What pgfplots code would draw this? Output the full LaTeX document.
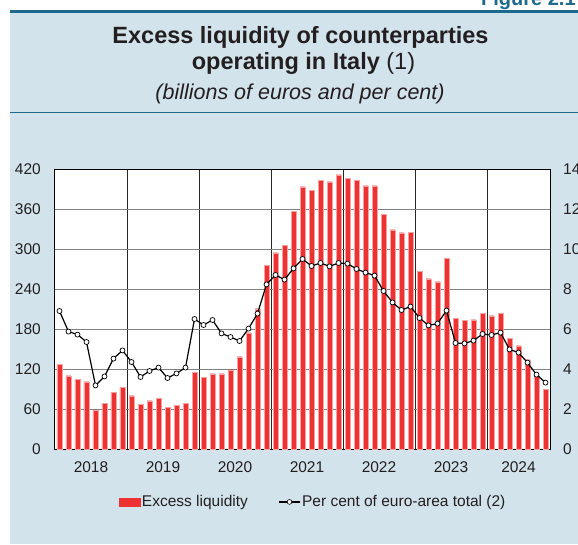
\documentclass[border=0pt]{standalone}
\usepackage{fontspec}
\setmainfont{Liberation Sans}
\usepackage{pgfplots}
\usepackage{pgfplotstable}
\pgfplotsset{compat=1.18}
\definecolor{bgblue}{HTML}{D3E3EC}
\definecolor{tealline}{HTML}{1D6A8C}
\definecolor{barred}{HTML}{EE3131}
\definecolor{titletext}{HTML}{231F20}

\pgfplotstableread{
x y
1 127
2 110
3 105
4 101
5 58.5
6 68.5
7 85
8 93
9 80
10 67.5
11 72.5
12 76
13 63
14 66
15 69
16 115.5
17 108
18 113
19 113
20 119
21 138.5
22 174.5
23 210.5
24 276
25 294.5
26 305.5
27 356.5
28 393.5
29 388.5
30 403.5
31 401
32 411.5
33 406.5
34 403.5
35 395
36 395
37 352.5
38 329
39 324.5
40 325.5
41 266.5
42 255.5
43 251
44 286.5
45 196.5
46 193
47 194
48 204
49 200
50 203.5
51 166.5
52 155
53 134
54 109.5
55 89.5
}\liquidity

\pgfplotstableread{
x y
1 6.9
2 5.87
3 5.72
4 5.35
5 3.18
6 3.63
7 4.52
8 4.93
9 4.35
10 3.6
11 3.9
12 4.07
13 3.55
14 3.78
15 4.07
16 6.5
17 6.2
18 6.45
19 5.78
20 5.6
21 5.4
22 6.02
23 6.77
24 8.23
25 8.7
26 8.47
27 9.03
28 9.5
29 9.15
30 9.3
31 9.13
32 9.3
33 9.27
34 9.0
35 8.82
36 8.67
37 7.9
38 7.33
39 6.95
40 7.12
41 6.55
42 6.18
43 6.27
44 6.92
45 5.3
46 5.28
47 5.42
48 5.75
49 5.7
50 5.82
51 4.98
52 4.82
53 4.32
54 3.72
55 3.32
}\share

\begin{document}
\begin{tikzpicture}[x=1pt,y=1pt]
\fill[white] (0,0) rectangle (578,544);
\fill[bgblue] (10,0) rectangle (578,532);
\draw[tealline, line width=3pt] (10,532.5) -- (578,532.5);
\draw[tealline, line width=1.5pt] (10,431.5) -- (578,431.5);
\node[anchor=base west, inner sep=0pt, font=\bfseries\fontsize{20}{22}\selectfont, text=tealline] at (481,538) {Figure 2.1};
\node[anchor=base, inner sep=0pt, text=titletext, font=\bfseries\fontsize{23.5}{26}\selectfont] at (300.5,500) {Excess liquidity of counterparties};
\node[anchor=base, inner sep=0pt, text=titletext, font=\fontsize{23.5}{26}\selectfont] at (303.5,474.5) {\textbf{operating in Italy} (1)};
\node[anchor=base, inner sep=0pt, text=titletext, font=\itshape\fontsize{21.5}{24}\selectfont] at (300,444) {(billions of euros and per cent)};

\begin{axis}[
  at={(55pt,95pt)}, anchor=south west,
  width=495pt, height=280pt, scale only axis,
  xmin=0.5, xmax=55.5, ymin=0, ymax=420,
  ytick={0,60,...,420},
  ytick pos=left,
  xtick={4.5,12.5,20.5,28.5,36.5,44.5,52},
  xticklabels={2018,2019,2020,2021,2022,2023,2024},
  minor xtick={8.5,16.5,24.5,32.5,40.5,48.5},
  xminorgrids, ymajorgrids,
  minor x grid style={black!85, line width=0.8pt},
  major y grid style={black!50, line width=1pt},
  major tick length=0pt, minor tick length=0pt,
  axis line style={black, line width=1pt},
  axis background/.style={fill=white},
  tick label style={font=\fontsize{15.5}{18}\selectfont, text=titletext},
  /pgf/number format/assume math mode=true,
  yticklabel style={inner sep=0pt, xshift=-14pt},
  xticklabel style={inner sep=0pt, yshift=-12pt},
]
\addplot[ybar, bar width=5pt, fill=barred, draw=barred!45!white, line width=0.3pt] table[x=x,y=y] {\liquidity};
\end{axis}

\begin{axis}[
  at={(55pt,95pt)}, anchor=south west,
  width=495pt, height=280pt, scale only axis,
  xmin=0.5, xmax=55.5, ymin=0, ymax=14,
  axis y line*=right, axis x line=none,
  ytick={0,2,...,14},
  major tick length=0pt,
  axis line style={black, line width=1pt},
  tick label style={font=\fontsize{15.5}{18}\selectfont, text=titletext},
  /pgf/number format/assume math mode=true,
  yticklabel style={inner sep=0pt, xshift=13pt},
  legend style={at={(0.129,-0.189)}, anchor=west, draw=none, fill=none,
    inner sep=0pt, font=\fontsize{15.5}{18}\selectfont, text=titletext,
    legend columns=2, nodes={inner sep=1.5pt},
    /tikz/every even column/.append style={column sep=29pt}},
  legend cell align=left,
]
\addlegendimage{legend image code/.code={\fill[barred] (0pt,-4pt) rectangle (21pt,4pt);}}
\addlegendentry{Excess liquidity}
\addlegendimage{legend image code/.code={\draw[black, line width=1.2pt] (0pt,0pt) -- (21pt,0pt); \draw[black, fill=white, line width=0.6pt] (10.5pt,0pt) circle (2.4pt);}}
\addlegendentry{Per cent of euro-area total (2)}
\addplot[black, line width=1.2pt, mark=*, mark size=2.5pt, mark options={fill=white, draw=black, line width=0.7pt}, forget plot] table[x=x,y=y] {\share};
\end{axis}
\pgfresetboundingbox
\path[use as bounding box] (0,0) rectangle (578,544);
\end{tikzpicture}
\end{document}
